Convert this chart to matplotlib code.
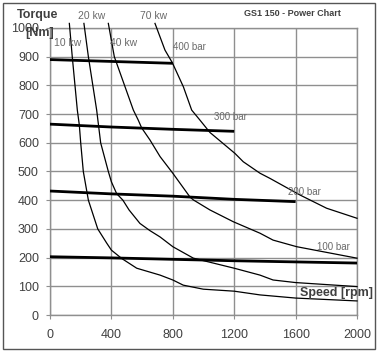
import matplotlib
matplotlib.use("Agg")
import matplotlib.pyplot as plt
from matplotlib.patches import Rectangle

plt.rcParams['font.family'] = ['Liberation Sans', 'DejaVu Sans']

# Power curves (rpm, torque Nm)
kw10_rpm = [126, 145, 178, 191, 200, 217, 250, 311, 370, 400, 467, 565, 717, 800, 868, 998, 1200, 1368, 1600, 2000]
kw10_nm = [1016, 900, 714, 662, 600, 500, 400, 300, 250, 226, 197, 163, 139, 122, 104, 90, 83, 70, 59, 49]

kw20_rpm = [221, 250, 304, 330, 380, 400, 434, 475, 515, 586, 651, 717, 800, 934, 1200, 1368, 1453, 1600, 2000]
kw20_nm = [1016, 900, 714, 600, 500, 464, 423, 400, 366, 319, 294, 272, 238, 198, 163, 139, 122, 113, 99]

kw40_rpm = [380, 419, 543, 575, 597, 651, 717, 800, 912, 934, 1042, 1194, 1368, 1453, 1607, 2000]
kw40_nm = [1016, 900, 714, 679, 652, 610, 552, 494, 411, 401, 366, 325, 285, 261, 238, 198]

kw70_rpm = [684, 749, 797, 869, 923, 977, 1042, 1205, 1259, 1368, 1433, 1629, 1802, 2000]
kw70_nm = [1016, 923, 879, 795, 714, 679, 636, 563, 534, 494, 476, 418, 372, 337]

# Pressure lines
bar400_rpm = [0, 800]
bar400_nm = [890, 877]
bar300_rpm = [0, 400, 800, 1200]
bar300_nm = [665, 655, 647, 640]
bar200_rpm = [0, 400, 800, 1200, 1600]
bar200_nm = [432, 422, 414, 403, 395]
bar100_rpm = [0, 400, 800, 1200, 1600, 2000]
bar100_nm = [203, 199, 194, 189, 185, 181]

x_ticks = [0, 400, 800, 1200, 1600, 2000]
y_ticks = [0, 100, 200, 300, 400, 500, 600, 700, 800, 900, 1000]

kw_labels = ["10 kw", "20 kw", "40 kw", "70 kw"]
kw_label_pos = [(26, 949), (185, 1042), (391, 949), (586, 1042)]
bar_labels = ["400 bar", "300 bar", "200 bar", "100 bar"]
bar_label_pos = [(801, 934), (1068, 690), (1550, 429), (1739, 237)]

W, H = 377, 351
fig = plt.figure(figsize=(W / 100, H / 100), dpi=100)
ax = fig.add_axes([50 / W, (H - 315) / H, 307 / W, 287 / H])

grid_c = '#8f8f8f'
ax.set_xlim(0, 2000)
ax.set_ylim(0, 1000)
ax.set_xticks(x_ticks)
ax.set_yticks(y_ticks)
ax.grid(True, color=grid_c, lw=1.0)
ax.set_axisbelow(True)
for s in ax.spines.values():
    s.set_color(grid_c)
    s.set_linewidth(1.0)
ax.tick_params(axis='both', direction='out', length=3, color=grid_c,
               labelsize=9, labelcolor='#404040')
ax.tick_params(axis='x', pad=7)
ax.tick_params(axis='y', pad=5)

for r, t in [(kw10_rpm, kw10_nm), (kw20_rpm, kw20_nm), (kw40_rpm, kw40_nm), (kw70_rpm, kw70_nm)]:
    ax.plot(r, t, color='black', lw=0.9, clip_on=False, zorder=3)

for r, t in [(bar400_rpm, bar400_nm), (bar300_rpm, bar300_nm), (bar200_rpm, bar200_nm), (bar100_rpm, bar100_nm)]:
    ax.plot(r, t, color='black', lw=2.0, solid_capstyle='butt', zorder=4)

lab_c = '#6a6a6a'
for s, (x, y) in zip(kw_labels, kw_label_pos):
    ax.text(x, y, s, fontsize=7.5, color=lab_c, ha='left', va='center', clip_on=False)
for s, (x, y) in zip(bar_labels, bar_label_pos):
    ax.text(x, y, s, fontsize=7, color=lab_c, ha='left', va='center', clip_on=False)

fig.text(17 / W, 1 - 15 / H, "Torque", fontsize=9, fontweight='bold', color='#404040',
         ha='left', va='center')
fig.text(25 / W, 1 - 33 / H, "[Nm]", fontsize=9, fontweight='bold', color='#404040',
         ha='left', va='center')
fig.text(300 / W, 1 - 293 / H, "Speed [rpm]", fontsize=9, fontweight='bold', color='#404040',
         ha='left', va='center')
fig.text(292 / W, 1 - 13 / H, "GS1 150 - Power Chart", fontsize=6.5, fontweight='bold',
         color='#404040', ha='center', va='center')

fig.patches.append(Rectangle((2.5 / W, 2.5 / H), 372.5 / W, 346 / H, transform=fig.transFigure,
                             fill=False, edgecolor='#555555', lw=1.0))

fig.savefig("out.png", dpi=100)
